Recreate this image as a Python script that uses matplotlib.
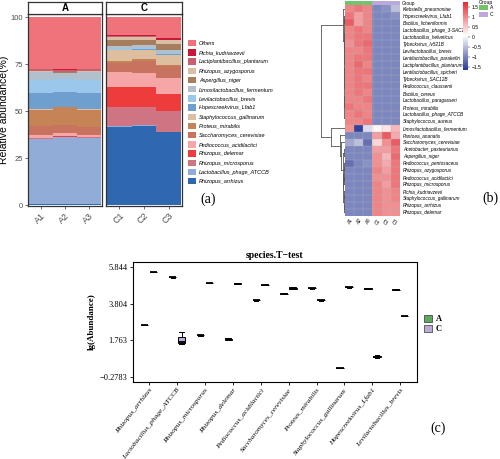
import numpy as np
import matplotlib
matplotlib.use("Agg")
import matplotlib.pyplot as plt
from matplotlib.colors import LinearSegmentedColormap, ListedColormap
from matplotlib.patches import Patch

W, H = 500, 459

samples_a = ["A1", "A2", "A3"]
samples_c = ["C1", "C2", "C3"]

# (a) composition, bottom of the stack first; columns A1 A2 A3 C1 C2 C3
taxa = ["Rhizopus_arrhizus", "Lactobacillus_phage_ATCCB", "Rhizopus_microsporus", "Rhizopus_delemar",
        "Pediococcus_acidilactici", "Saccharomyces_cerevisiae", "Proteus_mirabilis",
        "Staphylococcus_gallinarum", "Hopescreekvirus_Lfab1", "Levilactobacillus_brevis",
        "Limosilactobacillus_fermentum", "Aspergillus_niger", "Rhizopus_azygosporus",
        "Lactiplantibacillus_plantarum", "Pichia_kudriavzevii", "Others"]
taxa_colors = ["#2F67B1", "#91ADD7", "#CF7482", "#EE3B3B", "#F6A6A6", "#C8735F", "#C58356",
               "#DDBE9E", "#6F9FCE", "#9CC7EC", "#B0C0CC", "#A67E5E", "#D9BFA6",
               "#C9606F", "#C8173A", "#F0727A"]
abund = [
    [0.4, 0.4, 0.4, 41.7, 42.1, 38.7],
    [34.9, 35.7, 35.3, 0.4, 0.4, 0.4],
    [0.3, 0.3, 0.3, 10.3, 9.9, 11.0],
    [0.3, 0.3, 0.3, 10.3, 10.3, 9.0],
    [1.4, 1.5, 1.2, 7.8, 7.5, 8.6],
    [4.8, 4.6, 4.2, 5.0, 6.4, 6.0],
    [8.5, 9.2, 8.9, 1.2, 1.0, 1.0],
    [0.3, 0.3, 0.3, 5.5, 5.0, 5.2],
    [8.6, 7.7, 8.6, 0.4, 0.4, 0.4],
    [7.1, 7.1, 7.1, 0.4, 0.4, 0.4],
    [3.9, 3.3, 3.9, 1.4, 1.7, 2.0],
    [0.3, 0.3, 0.3, 3.2, 2.8, 3.1],
    [0.3, 0.3, 0.3, 1.7, 1.4, 1.8],
    [1.2, 1.0, 1.2, 0.4, 0.4, 0.4],
    [0.1, 0.1, 0.1, 0.7, 0.7, 0.6],
    [27.6, 27.9, 27.6, 9.6, 9.6, 11.4],
]

# (b) heatmap, z-scores per row; columns A1 A2 A3 C1 C2 C3
heat_rows = ["Klebsiella_pneumoniae", "Hopescreekvirus_Lfab1", "Bacillus_licheniformis",
             "Lactobacillus_phage_3-SAC12", "Lactobacillus_helveticus", "Tybeckvirus_lv521B",
             "Levilactobacillus_brevis", "Lentilactobacillus_parakefiri", "Lactiplantibacillus_plantarum",
             "Lentilactobacillus_spicheri", "Tybeckvirus_SAC12B", "Pediococcus_claussenii",
             "Bacillus_cereus", "Lactobacillus_paragasseri", "Proteus_mirabilis",
             "Lactobacillus_phage_ATCCB", "Staphylococcus_aureus", "Limosilactobacillus_fermentum",
             "Pantoea_ananatis", "Saccharomyces_cerevisiae", "Acetobacter_pasteurianus",
             "Aspergillus_niger", "Pediococcus_pentosaceus", "Rhizopus_azygosporus",
             "Pediococcus_acidilactici", "Rhizopus_microsporus", "Pichia_kudriavzevii",
             "Staphylococcus_gallinarum", "Rhizopus_arrhizus", "Rhizopus_delemar"]
heat_cols = ["A1", "A2", "A3", "C1", "C2", "C3"]
heat_vals = [
    [1.0, 1.1, 1.0, -1.0, -0.9, -0.5],
    [1.1, 0.8, 1.0, -1.0, -1.0, -0.9],
    [1.3, 0.8, 1.0, -1.0, -1.0, -1.0],
    [1.0, 1.1, 1.0, -1.0, -1.0, -1.0],
    [1.0, 1.1, 1.1, -1.0, -1.0, -1.0],
    [0.9, 1.1, 1.2, -1.0, -1.0, -1.0],
    [1.0, 1.0, 1.1, -1.0, -1.0, -1.0],
    [1.0, 1.1, 1.1, -1.0, -1.0, -1.0],
    [1.0, 1.2, 1.0, -1.0, -1.0, -1.0],
    [1.0, 1.1, 1.1, -1.0, -1.0, -1.0],
    [1.0, 1.1, 1.0, -1.0, -1.0, -1.0],
    [1.0, 1.1, 1.1, -1.0, -1.0, -1.0],
    [1.0, 1.1, 1.0, -1.0, -1.0, -1.0],
    [1.0, 1.0, 1.1, -1.0, -1.0, -1.0],
    [1.1, 1.0, 1.0, -1.0, -1.0, -1.0],
    [1.0, 1.1, 1.0, -1.0, -1.0, -1.0],
    [1.0, 1.0, 1.1, -1.0, -1.0, -1.0],
    [0.9, -1.6, -0.25, 0.1, 0.25, 0.6],
    [-1.0, -1.0, -1.0, 0.8, 1.3, 0.7],
    [-0.7, -0.5, -1.2, 0.35, 0.9, 1.3],
    [-1.0, -1.0, -1.0, 0.8, 0.8, 1.1],
    [-1.0, -1.0, -1.0, 0.9, 0.6, 1.2],
    [-1.2, -1.0, -0.9, 0.9, 0.7, 1.1],
    [-1.0, -1.0, -1.0, 1.0, 0.8, 1.1],
    [-1.0, -1.0, -1.0, 0.9, 0.9, 1.1],
    [-1.0, -1.0, -1.0, 1.0, 0.8, 1.1],
    [-1.0, -1.0, -1.0, 1.0, 0.9, 1.0],
    [-1.0, -1.0, -1.0, 1.0, 0.9, 1.0],
    [-1.0, -1.0, -1.0, 1.0, 0.9, 0.9],
    [-1.0, -1.0, -1.0, 1.0, 0.9, 0.9],
]
# row dendrogram: (left, right, merge height), leaves are row indices
tree_top = (0, ((1, 2, 0.35),
                ((((3, 4, 0.15), (5, 6, 0.12), 0.25),
                  (((7, 8, 0.1), (9, 10, 0.1), 0.2),
                   (((11, 12, 0.1), (13, 14, 0.12), 0.2), (15, 16, 0.15), 0.3), 0.35), 0.45)), 0.6), 0.75)
tree_bottom = (17, (18, (19, ((20, 21, 0.5),
                              (((22, 23, 0.3), (24, 25, 0.25), 0.5),
                               ((26, 27, 0.3), (28, 29, 0.35), 0.55), 0.8), 1.0), 1.5), 2.0), 5.9)
tree = (tree_top, tree_bottom, 10.0)

# (c) lg(Abundance), three replicates per group
ttest_species = ["Rhizopus_arrhizus", "Lactobacillus_phage_ATCCB", "Rhizopus_microsporus",
                 "Rhizopus_delemar", "Pediococcus_acidilactici", "Saccharomyces_cerevisiae",
                 "Proteus_mirabilis", "Staphylococcus_gallinarum", "Hopescreekvirus_Lfab1",
                 "Levilactobacillus_brevis"]
lg_A = [[2.59, 2.61, 2.63], [5.26, 5.28, 5.30], [2.02, 2.04, 2.06], [1.76, 1.82, 1.88],
        [3.98, 4.00, 4.02], [4.34, 4.36, 4.38], [4.65, 4.67, 4.69], [0.19, 0.207, 0.22],
        [4.63, 4.65, 4.67], [4.56, 4.58, 4.60]]
lg_C = [[5.56, 5.58, 5.60], [1.57, 1.68, 2.21], [4.95, 4.97, 4.99], [4.91, 4.93, 4.95],
        [4.84, 4.86, 4.88], [4.60, 4.67, 4.74], [3.98, 4.00, 4.02], [4.71, 4.73, 4.75],
        [0.76, 0.84, 0.92], [3.09, 3.11, 3.13]]
lg_ticks = [-0.2783, 1.763, 3.804, 5.844]


def fax(x0, y0, x1, y1):
    # pixel box (top-left origin) -> figure axes
    return fig.add_axes([x0 / W, 1 - y1 / H, (x1 - x0) / W, (y1 - y0) / H])


fig = plt.figure(figsize=(W / 100, H / 100), dpi=100)
sans = ["Liberation Sans", "DejaVu Sans"]
serif = ["Liberation Serif", "DejaVu Serif"]

# ---------------- (a) ----------------
vals = np.array(abund)
for k, (x0, x1, labs, cols) in enumerate([(27.5, 102, samples_a, slice(0, 3)),
                                          (106, 182, samples_c, slice(3, 6))]):
    ax = fax(x0, 14, x1, 206)
    sub = vals[:, cols]
    bottom = np.zeros(3)
    for t in range(len(taxa)):
        ax.bar(np.arange(3), sub[t], bottom=bottom, width=1.0, color=taxa_colors[t],
               edgecolor="none", linewidth=0)
        bottom += sub[t]
    ax.set_xlim(-0.55, 2.55)
    ax.set_ylim(-0.5, 101.6)
    ax.set_xticks(range(3))
    ax.set_xticklabels(labs, rotation=45, ha="right", rotation_mode="anchor",
                       fontsize=6.5, color="#4D4D4D", family=sans)
    ax.tick_params(axis="x", length=2, color="#333333", width=0.5, pad=1.5)
    if k == 0:
        ax.set_yticks([0, 25, 50, 75, 100])
        ax.set_yticklabels(["0", "25", "50", "75", "100"], fontsize=5.5, color="#4D4D4D", family=sans)
        ax.tick_params(axis="y", length=2, color="#333333", width=0.5, pad=1)
        ax.set_ylabel("Relative abundance(%)", fontsize=7.5, family=sans, labelpad=1)
    else:
        ax.set_yticks([])
    for s in ax.spines.values():
        s.set_linewidth(0.9)
        s.set_color("#333333")
    st = fax(x0, 2, x1, 14)
    st.set_xticks([])
    st.set_yticks([])
    st.set_facecolor("white")
    for s in st.spines.values():
        s.set_linewidth(0.9)
        s.set_color("#333333")
    st.text(0.5, 0.5, ["A", "C"][k], ha="center", va="center", fontsize=7,
            fontweight="bold", family=sans, transform=st.transAxes)

handles = [Patch(facecolor=taxa_colors[t], edgecolor="none", label=taxa[t])
           for t in range(len(taxa) - 1, -1, -1)]
fig.legend(handles=handles, loc="upper left", bbox_to_anchor=(188 / W, 1 - 40 / H),
           frameon=False, prop={"family": sans, "style": "italic", "size": 4.0},
           handlelength=1.4, handleheight=1.4, handletextpad=0.6, labelspacing=0.5,
           borderaxespad=0, borderpad=0)
fig.text(200 / W, 1 - 199 / H, "(a)", fontsize=10, family=serif, va="center")

# ---------------- (b) ----------------
cmap = LinearSegmentedColormap.from_list("bwr_ph", ["#2A3A96", "#FFFFFF", "#E4242A"])
vmin, vmax = -1.67, 1.75
hv = np.array(heat_vals)
nr, nc = hv.shape
axh = fax(345, 5, 400, 216)
axh.imshow(hv, cmap=cmap, vmin=vmin, vmax=vmax, aspect="auto", interpolation="nearest",
           extent=[0, nc, nr, 0])
for i in range(1, nr):
    axh.axhline(i, color="#B4B4B4", lw=0.25)
for j in range(1, nc):
    axh.axvline(j, color="#B4B4B4", lw=0.25)
axh.set_xlim(0, nc)
axh.set_ylim(nr, 0)
for s in axh.spines.values():
    s.set_visible(False)
axh.set_yticks(np.arange(nr) + 0.5)
axh.set_yticklabels(heat_rows, fontsize=3.4, style="italic", family=sans)
axh.yaxis.tick_right()
axh.tick_params(axis="y", length=0, pad=2)
axh.set_xticks(np.arange(nc) + 0.5)
axh.set_xticklabels(heat_cols, fontsize=3.4, rotation=60, ha="right", rotation_mode="anchor",
                    family=sans, style="italic")
axh.tick_params(axis="x", length=0, pad=1.5)

axg = fax(345, 0.6, 400, 4.6)
grp_colors = ListedColormap(["#71C46B", "#BBA9DB"])
axg.imshow(np.array([[0, 0, 0, 1, 1, 1]]), cmap=grp_colors, vmin=0, vmax=1, aspect="auto",
           interpolation="nearest", extent=[0, nc, 1, 0])
for j in range(1, nc):
    axg.axvline(j, color="#B4B4B4", lw=0.25)
axg.set_xlim(0, nc)
axg.axis("off")
fig.text(402 / W, 1 - 3 / H, "Group", fontsize=3.4, family=sans, va="center")


def draw_tree(ax, node):
    # returns (position, height) of node
    if isinstance(node, int):
        return node + 0.5, 0.0
    l, r, h = node
    pl, hl = draw_tree(ax, l)
    pr, hr = draw_tree(ax, r)
    ax.plot([hl, h], [pl, pl], color="#555555", lw=0.6)
    ax.plot([hr, h], [pr, pr], color="#555555", lw=0.6)
    ax.plot([h, h], [pl, pr], color="#555555", lw=0.6)
    return (pl + pr) / 2, h


axd = fax(318, 5, 345, 216)
draw_tree(axd, tree)
axd.set_xlim(11.1, 0)
axd.set_ylim(nr, 0)
axd.axis("off")

axc = fax(463, 1.7, 467.5, 70)
grad = np.linspace(vmin, vmax, 256).reshape(-1, 1)
axc.imshow(grad, cmap=cmap, vmin=vmin, vmax=vmax, aspect="auto", origin="lower",
           extent=[0, 1, vmin, vmax])
axc.set_xticks([])
axc.yaxis.tick_right()
axc.set_yticks([-1.5, -1, -0.5, 0, 0.5, 1, 1.5])
axc.set_yticklabels(["\u22121.5", "\u22121", "\u22120.5", "0", "0.5", "1", "1.5"],
                    fontsize=3.6, family=sans)
axc.tick_params(axis="y", length=1.2, width=0.3, pad=1.5)
for s in axc.spines.values():
    s.set_visible(False)

fig.text(479 / W, 1 - 2.5 / H, "Group", fontsize=3.6, family=sans, va="center")
fig.legend(handles=[Patch(facecolor="#71C46B", label="A"), Patch(facecolor="#BBA9DB", label="C")],
           loc="upper left", bbox_to_anchor=(478.5 / W, 1 - 4.5 / H), frameon=False,
           prop={"family": sans, "size": 3.6}, handlelength=1.8, handleheight=1.4,
           handletextpad=0.4, labelspacing=0.25, borderaxespad=0, borderpad=0)
fig.text(490 / W, 1 - 198 / H, "(b)", fontsize=10, family=serif, va="center", ha="center")

# ---------------- (c) ----------------
col_A, col_C = "#5DAA5C", "#BBA9D6"
axt = fax(133, 262.3, 417, 381.7)
pos = np.arange(1, len(ttest_species) + 1)
off, bw = 0.16, 0.27
for data, dx, col in [(lg_A, -off, col_A), (lg_C, off, col_C)]:
    axt.boxplot(data, positions=pos + dx, widths=bw, patch_artist=True, showfliers=False,
                whis=(0, 100), manage_ticks=False,
                boxprops=dict(facecolor=col, edgecolor="black", linewidth=0.7),
                medianprops=dict(color="black", linewidth=1.3),
                whiskerprops=dict(color="black", linewidth=0.7),
                capprops=dict(color="black", linewidth=0.7), capwidths=bw * 0.55)
axt.set_xlim(0.42, 10.6)
axt.set_ylim(-0.558, 6.12)
axt.set_yticks(lg_ticks)
axt.set_yticklabels(["\u22120.2783", "1.763", "3.804", "5.844"], fontsize=6, family=serif)
axt.set_xticks(pos)
axt.set_xticklabels(ttest_species, rotation=52, ha="right", rotation_mode="anchor",
                    fontsize=5.3, style="italic", family=serif)
axt.tick_params(length=2.5, width=0.6, pad=1.5)
for s in axt.spines.values():
    s.set_linewidth(0.8)
axt.set_ylabel("lg(Abundance)", fontsize=6.5, fontweight="bold", family=serif, labelpad=3)
axt.set_title("species.T\u2212test", fontsize=7, fontweight="bold", family=serif, pad=3)
fig.legend(handles=[Patch(facecolor=col_A, edgecolor="#333333", linewidth=0.5, label="A"),
                    Patch(facecolor=col_C, edgecolor="#333333", linewidth=0.5, label="C")],
           loc="upper left", bbox_to_anchor=(424 / W, 1 - 315 / H), frameon=False,
           prop={"family": serif, "size": 6, "weight": "bold"}, handlelength=0.9,
           handleheight=0.9, handletextpad=0.5, labelspacing=0.15, borderaxespad=0, borderpad=0)
fig.text(438 / W, 1 - 428 / H, "(c)", fontsize=10, family=serif, va="center", ha="center")

fig.savefig("out.png", dpi=100)
